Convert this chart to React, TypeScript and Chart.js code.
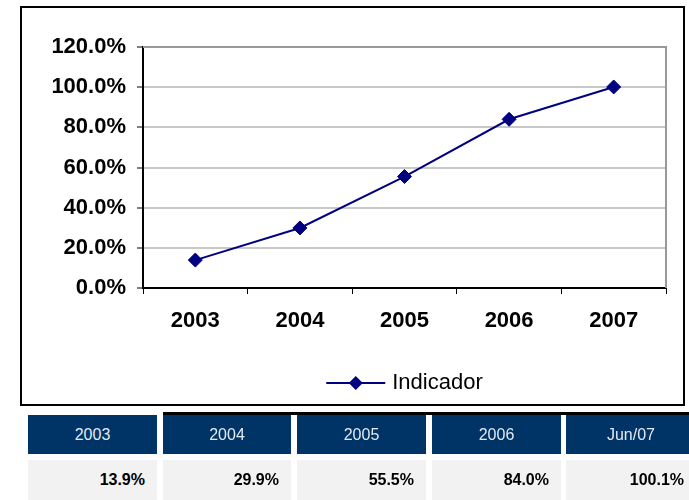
import React, { useEffect, useRef } from 'react';
import { Chart, registerables } from 'chart.js';

Chart.register(...registerables);

// ---- data ----
const categories = ['2003', '2004', '2005', '2006', '2007'];
const seriesLabel = 'Indicador';
const seriesValues = [13.9, 29.9, 55.5, 84.0, 100.1];
const yTicks = [0, 20, 40, 60, 80, 100, 120];
const tableHeaders = ['2003', '2004', '2005', '2006', 'Jun/07'];
const tableValues = [13.9, 29.9, 55.5, 84.0, 100.1];

// ---- layout / style ----
const NAVY = '#000080';
const CANVAS_W = 689;
const CANVAS_H = 410;
const colX = [28, 163, 297, 432, 566];
const colW = [129, 128, 129, 129, 130];

const plotFramePlugin = {
  id: 'plotFrame',
  beforeDatasetsDraw(chart: any) {
    const { ctx, chartArea } = chart;
    const { left, top, right, bottom } = chartArea;
    ctx.save();
    ctx.strokeStyle = '#999999';
    ctx.lineWidth = 2;
    ctx.beginPath();
    ctx.moveTo(left, top);
    ctx.lineTo(right, top);
    ctx.lineTo(right, bottom);
    ctx.stroke();
    ctx.restore();
  },
};

const customLegendPlugin = {
  id: 'customLegend',
  afterDraw(chart: any) {
    const { ctx, chartArea } = chart;
    const ds = chart.data.datasets[0];
    const label = ds.label as string;
    ctx.save();
    ctx.font = '22px "Liberation Sans", Arial';
    const tw = ctx.measureText(label).width;
    const lineLen = 59;
    const gap = 7;
    const total = lineLen + gap + tw;
    const cx = (chartArea.left + chartArea.right) / 2;
    const x0 = cx - total / 2;
    const y = 383;
    ctx.strokeStyle = ds.borderColor;
    ctx.lineWidth = 2;
    ctx.beginPath();
    ctx.moveTo(x0, y);
    ctx.lineTo(x0 + lineLen, y);
    ctx.stroke();
    const mx = x0 + lineLen / 2;
    const r = 7;
    ctx.fillStyle = ds.pointBackgroundColor;
    ctx.beginPath();
    ctx.moveTo(mx, y - r);
    ctx.lineTo(mx + r, y);
    ctx.lineTo(mx, y + r);
    ctx.lineTo(mx - r, y);
    ctx.closePath();
    ctx.fill();
    ctx.fillStyle = '#000000';
    ctx.textAlign = 'left';
    ctx.textBaseline = 'middle';
    ctx.fillText(label, x0 + lineLen + gap, y);
    ctx.restore();
  },
};

function ChartBox() {
  const ref = useRef<HTMLCanvasElement | null>(null);
  useEffect(() => {
    if (!ref.current) return;
    const yFont = { family: '"Liberation Sans", Arial', size: 22, weight: 'bold' as const };
    const xFont = { family: '"Liberation Sans", Arial', size: 22, weight: 'bold' as const };
    const chart = new Chart(ref.current, {
      type: 'line',
      data: {
        labels: categories,
        datasets: [
          {
            label: seriesLabel,
            data: seriesValues,
            borderColor: NAVY,
            backgroundColor: NAVY,
            borderWidth: 2,
            pointStyle: 'rectRot',
            pointRadius: 7,
            pointHoverRadius: 7,
            pointBackgroundColor: NAVY,
            pointBorderColor: NAVY,
            pointBorderWidth: 1,
            tension: 0,
            fill: false,
          },
        ],
      },
      options: {
        animation: false,
        responsive: false,
        devicePixelRatio: 1,
        layout: { padding: { left: 0, top: 47, right: 23, bottom: 62 } },
        plugins: {
          legend: { display: false },
          tooltip: { enabled: false },
        },
        scales: {
          x: {
            type: 'category',
            offset: true,
            grid: {
              display: true,
              drawOnChartArea: false,
              drawTicks: true,
              tickLength: 6,
              tickColor: '#000000',
              offset: true,
            },
            border: { display: true, color: '#000000', width: 2 },
            ticks: { color: '#000000', font: xFont, padding: 14, maxRotation: 0 },
            afterFit(scale: any) {
              scale.height = 60;
            },
          },
          y: {
            min: 0,
            max: 120,
            afterBuildTicks(scale: any) {
              scale.ticks = yTicks.map((v) => ({ value: v }));
            },
            grid: {
              color: '#c8c8c8',
              lineWidth: 2,
              drawTicks: true,
              tickLength: 6,
              tickColor: '#000000',
              tickWidth: 1,
            },
            border: { display: true, color: '#000000', width: 2 },
            ticks: {
              color: '#000000',
              font: yFont,
              padding: 11,
              callback: (v: any) => Number(v).toFixed(1) + '%',
            },
            afterFit(scale: any) {
              scale.width = 143;
            },
          },
        },
      },
      plugins: [plotFramePlugin, customLegendPlugin],
    });
    return () => chart.destroy();
  }, []);
  return (
    <canvas
      ref={ref}
      width={CANVAS_W}
      height={CANVAS_H}
      style={{ position: 'absolute', left: 0, top: 0, width: CANVAS_W, height: CANVAS_H, display: 'block' }}
    />
  );
}

export default function App() {
  return (
    <div
      style={{
        position: 'absolute',
        left: 0,
        top: 0,
        width: 689,
        height: 500,
        overflow: 'hidden',
        background: '#ffffff',
        fontFamily: '"Liberation Sans", Arial, sans-serif',
      }}
    >
      <ChartBox />
      <div
        style={{
          position: 'absolute',
          left: 20,
          top: 6,
          width: 665,
          height: 400,
          border: '2px solid #000000',
          boxSizing: 'border-box',
          pointerEvents: 'none',
        }}
      />
      <div style={{ position: 'absolute', left: 163, top: 412, width: 540, height: 3, background: '#000000' }} />
      {tableHeaders.map((h, i) => (
        <div
          key={'h' + i}
          style={{
            position: 'absolute',
            left: colX[i],
            top: 415,
            width: colW[i],
            height: 39,
            background: '#003366',
            color: '#e4eaf2',
            fontSize: 16,
            display: 'flex',
            alignItems: 'center',
            justifyContent: 'center',
          }}
        >
          {h}
        </div>
      ))}
      {tableValues.map((v, i) => (
        <div
          key={'v' + i}
          style={{
            position: 'absolute',
            left: colX[i],
            top: 460,
            width: colW[i],
            height: 40,
            background: '#f2f2f2',
            color: '#000000',
            fontSize: 16,
            fontWeight: 'bold',
            display: 'flex',
            alignItems: 'center',
            justifyContent: 'flex-end',
            paddingRight: 12,
            boxSizing: 'border-box',
          }}
        >
          {v.toFixed(1) + '%'}
        </div>
      ))}
    </div>
  );
}
